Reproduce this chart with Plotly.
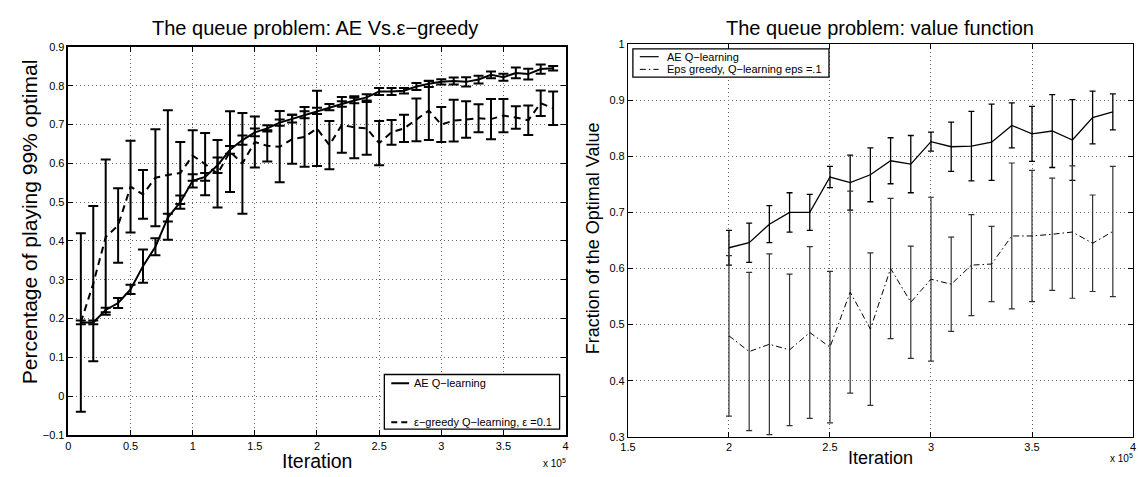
import plotly.graph_objects as go

# ---------------- Left chart data (iteration in units of 1e5) ----------------
iter_left = [0.1, 0.2, 0.3, 0.4, 0.5, 0.6, 0.7, 0.8, 0.9, 1.0,
             1.1, 1.2, 1.3, 1.4, 1.5, 1.6, 1.7, 1.8, 1.9, 2.0,
             2.1, 2.2, 2.3, 2.4, 2.5, 2.6, 2.7, 2.8, 2.9, 3.0,
             3.1, 3.2, 3.3, 3.4, 3.5, 3.6, 3.7, 3.8, 3.9]
ae_left = [0.19, 0.19, 0.222, 0.24, 0.275, 0.335, 0.385, 0.46, 0.50, 0.555,
           0.565, 0.595, 0.635, 0.66, 0.68, 0.69, 0.705, 0.715, 0.725, 0.735,
           0.745, 0.753, 0.762, 0.77, 0.785, 0.785, 0.787, 0.798, 0.805, 0.81,
           0.812, 0.81, 0.816, 0.828, 0.822, 0.833, 0.83, 0.843, 0.845]
ae_left_err = [0.005, 0.005, 0.006, 0.013, 0.012, 0.043, 0.022, 0.01, 0.017, 0.017,
               0.01, 0.02, 0.01, 0.012, 0.01, 0.008, 0.008, 0.01, 0.009, 0.008,
               0.008, 0.007, 0.007, 0.008, 0.009, 0.009, 0.007, 0.009, 0.008, 0.007,
               0.009, 0.012, 0.01, 0.009, 0.009, 0.014, 0.014, 0.012, 0.006]
eps_left = [0.19, 0.29, 0.41, 0.44, 0.54, 0.52, 0.563, 0.57, 0.575, 0.62,
            0.598, 0.573, 0.63, 0.60, 0.655, 0.645, 0.643, 0.662, 0.668, 0.69,
            0.647, 0.699, 0.693, 0.69, 0.652, 0.68, 0.69, 0.712, 0.736, 0.70,
            0.71, 0.713, 0.716, 0.714, 0.723, 0.718, 0.711, 0.755, 0.742]
eps_left_err = [0.23, 0.2, 0.2, 0.096, 0.118, 0.063, 0.125, 0.167, 0.08, 0.065,
                0.08, 0.087, 0.104, 0.13, 0.066, 0.04, 0.092, 0.063, 0.077, 0.097,
                0.062, 0.072, 0.08, 0.068, 0.057, 0.032, 0.035, 0.055, 0.076, 0.045,
                0.054, 0.047, 0.036, 0.052, 0.043, 0.029, 0.038, 0.033, 0.043]

# ---------------- Right chart data ----------------
iter_right = [2.0, 2.1, 2.2, 2.3, 2.4, 2.5, 2.6, 2.7, 2.8, 2.9,
              3.0, 3.1, 3.2, 3.3, 3.4, 3.5, 3.6, 3.7, 3.8, 3.9]
ae_right = [0.637, 0.646, 0.679, 0.70, 0.70, 0.763, 0.753, 0.767, 0.792, 0.786,
            0.826, 0.817, 0.818, 0.825, 0.855, 0.84, 0.845, 0.829, 0.869, 0.879]
ae_right_err = [0.031, 0.035, 0.033, 0.035, 0.032, 0.019, 0.049, 0.048, 0.041, 0.051,
                0.017, 0.044, 0.062, 0.068, 0.04, 0.049, 0.065, 0.072, 0.047, 0.032]
eps_right = [0.48, 0.452, 0.465, 0.455, 0.486, 0.46, 0.558, 0.492, 0.60, 0.54,
             0.581, 0.572, 0.606, 0.608, 0.658, 0.658, 0.661, 0.665, 0.645, 0.666]
eps_right_err = [0.143, 0.141, 0.161, 0.135, 0.153, 0.135, 0.18, 0.136, 0.125, 0.1,
                 0.146, 0.084, 0.09, 0.067, 0.13, 0.117, 0.1, 0.118, 0.086, 0.116]

left_xticks = [0, 0.5, 1, 1.5, 2, 2.5, 3, 3.5, 4]
left_xticktext = ["0", "0.5", "1", "1.5", "2", "2.5", "3", "3.5", "4"]
left_yticks = [-0.1, 0, 0.1, 0.2, 0.3, 0.4, 0.5, 0.6, 0.7, 0.8, 0.9]
left_yticktext = ["\u22120.1", "0", "0.1", "0.2", "0.3", "0.4", "0.5", "0.6", "0.7", "0.8", "0.9"]
right_xticks = [1.5, 2, 2.5, 3, 3.5, 4]
right_xticktext = ["1.5", "2", "2.5", "3", "3.5", "4"]
right_yticks = [0.3, 0.4, 0.5, 0.6, 0.7, 0.8, 0.9, 1.0]
right_yticktext = ["0.3", "0.4", "0.5", "0.6", "0.7", "0.8", "0.9", "1"]

left_names = ["AE Q\u2212learning", "\u03b5\u2212greedy Q\u2212learning, \u03b5 =0.1"]
right_names = ["AE Q\u2212learning", "Eps greedy, Q\u2212learning eps =.1"]

FONT = "Liberation Sans, Arial, Helvetica, sans-serif"
W, H = 1138, 477

EPS_LEFT_DASH = "7px,5px"
EPS_RIGHT_DASH = "6px,3px,1.5px,3px"

fig = go.Figure()

# Left chart traces
fig.add_trace(go.Scatter(
    x=iter_left, y=ae_left, mode="lines", name=left_names[0],
    line=dict(color="black", width=2),
    error_y=dict(type="data", array=ae_left_err, color="black", thickness=2, width=5),
    xaxis="x", yaxis="y", showlegend=False))
fig.add_trace(go.Scatter(
    x=iter_left, y=eps_left, mode="lines", name=left_names[1],
    line=dict(color="black", width=2, dash=EPS_LEFT_DASH),
    error_y=dict(type="data", array=eps_left_err, color="black", thickness=2, width=5),
    xaxis="x", yaxis="y", showlegend=False))

# Right chart traces
fig.add_trace(go.Scatter(
    x=iter_right, y=ae_right, mode="lines", name=right_names[0],
    line=dict(color="black", width=1.3),
    error_y=dict(type="data", array=ae_right_err, color="black", thickness=1.3, width=3),
    xaxis="x2", yaxis="y2", showlegend=False))
fig.add_trace(go.Scatter(
    x=iter_right, y=eps_right, mode="lines", name=right_names[1],
    line=dict(color="black", width=1, dash=EPS_RIGHT_DASH),
    error_y=dict(type="data", array=eps_right_err, color="#333333", thickness=1.2, width=3),
    xaxis="x2", yaxis="y2", showlegend=False))

grid = dict(showgrid=True, gridcolor="#666666", gridwidth=1, griddash="1px,3px",
            zeroline=False, showline=True, mirror="ticks", linecolor="black",
            ticks="inside", ticklen=5, tickcolor="black", tickwidth=1,
            tickfont=dict(family=FONT, size=11, color="black"))

fig.update_layout(
    width=W, height=H,
    margin=dict(l=0, r=0, t=0, b=0),
    paper_bgcolor="white", plot_bgcolor="white",
    font=dict(family=FONT, color="black"),
    showlegend=False,
    xaxis=dict(domain=[61 / W, 563 / W], range=[0, 4], tickvals=left_xticks,
               ticktext=left_xticktext, linewidth=1.5, anchor="y", **grid),
    yaxis=dict(domain=[1 - 440 / H, 1 - 42 / H], range=[-0.1, 0.9], tickvals=left_yticks,
               ticktext=left_yticktext, linewidth=1.5, anchor="x", **grid),
    xaxis2=dict(domain=[626 / W, 1136 / W], range=[1.5, 4], tickvals=right_xticks,
                ticktext=right_xticktext, linewidth=1, anchor="y2", **grid),
    yaxis2=dict(domain=[1 - 442 / H, 1 - 39 / H], range=[0.3, 1.0], tickvals=right_yticks,
                ticktext=right_yticktext, linewidth=1, anchor="x2", **grid),
)


def px(x):
    return x / W


def py(y):
    return 1 - y / H


def legend_line(x0, x1, y, width, dash):
    return dict(type="line", xref="paper", yref="paper", x0=px(x0), x1=px(x1), y0=py(y), y1=py(y),
                line=dict(color="black", width=width, dash=dash), layer="above")


def legend_text(text, x, y):
    return dict(text=text, x=px(x), y=py(y), xref="paper", yref="paper", showarrow=False,
                xanchor="left", yanchor="middle", font=dict(family=FONT, size=11, color="black"))


# MATLAB-style legend boxes
shapes = [
    dict(type="rect", xref="paper", yref="paper", x0=px(380), x1=px(557), y0=py(434), y1=py(378),
         line=dict(color="black", width=1.3), fillcolor="white", layer="above"),
    legend_line(387, 405, 387, 2, "solid"),
    legend_line(387, 405, 427, 2, "6px,4px"),
    dict(type="rect", xref="paper", yref="paper", x0=px(631), x1=px(829), y0=py(73), y1=py(44),
         line=dict(color="black", width=1.3), fillcolor="white", layer="above"),
    legend_line(638, 657, 52, 1.2, "solid"),
    legend_line(638, 657, 65, 1, EPS_RIGHT_DASH),
]

ann = [
    legend_text(left_names[0], 408, 387),
    legend_text(left_names[1], 408, 427),
    legend_text(right_names[0], 663, 52),
    legend_text(right_names[1], 663, 65),
]
ann.append(dict(text="The queue problem: AE Vs.\u03b5\u2212greedy", x=px(310), y=py(23),
                xref="paper", yref="paper", showarrow=False, xanchor="center", yanchor="middle",
                font=dict(family=FONT, size=20, color="black")))
ann.append(dict(text="The queue problem: value function", x=px(881), y=py(23),
                xref="paper", yref="paper", showarrow=False, xanchor="center", yanchor="middle",
                font=dict(family=FONT, size=20, color="black")))
ann.append(dict(text="Percentage of playing 99% optimal", x=px(22), y=py(221),
                xref="paper", yref="paper", showarrow=False, xanchor="center", yanchor="middle",
                textangle=-90, font=dict(family=FONT, size=21, color="black")))
ann.append(dict(text="Fraction of the Optimal Value", x=px(591), y=py(238),
                xref="paper", yref="paper", showarrow=False, xanchor="center", yanchor="middle",
                textangle=-90, font=dict(family=FONT, size=18, color="black")))
ann.append(dict(text="Iteration", x=px(312), y=py(477), yshift=-3,
                xref="paper", yref="paper", showarrow=False, xanchor="center", yanchor="bottom",
                font=dict(family=FONT, size=19.5, color="black")))
ann.append(dict(text="Iteration", x=px(881), y=py(477), yshift=1,
                xref="paper", yref="paper", showarrow=False, xanchor="center", yanchor="bottom",
                font=dict(family=FONT, size=18, color="black")))
ann.append(dict(text="x 10<sup>5</sup>", x=px(552), y=py(469),
                xref="paper", yref="paper", showarrow=False, xanchor="center", yanchor="middle",
                font=dict(family=FONT, size=10, color="black")))
ann.append(dict(text="x 10<sup>5</sup>", x=px(1124), y=py(464),
                xref="paper", yref="paper", showarrow=False, xanchor="center", yanchor="middle",
                font=dict(family=FONT, size=10, color="black")))
fig.update_layout(annotations=ann, shapes=shapes)

fig.write_html("out.html", config={"displayModeBar": False},
               post_script="document.body.style.margin='0px';")
